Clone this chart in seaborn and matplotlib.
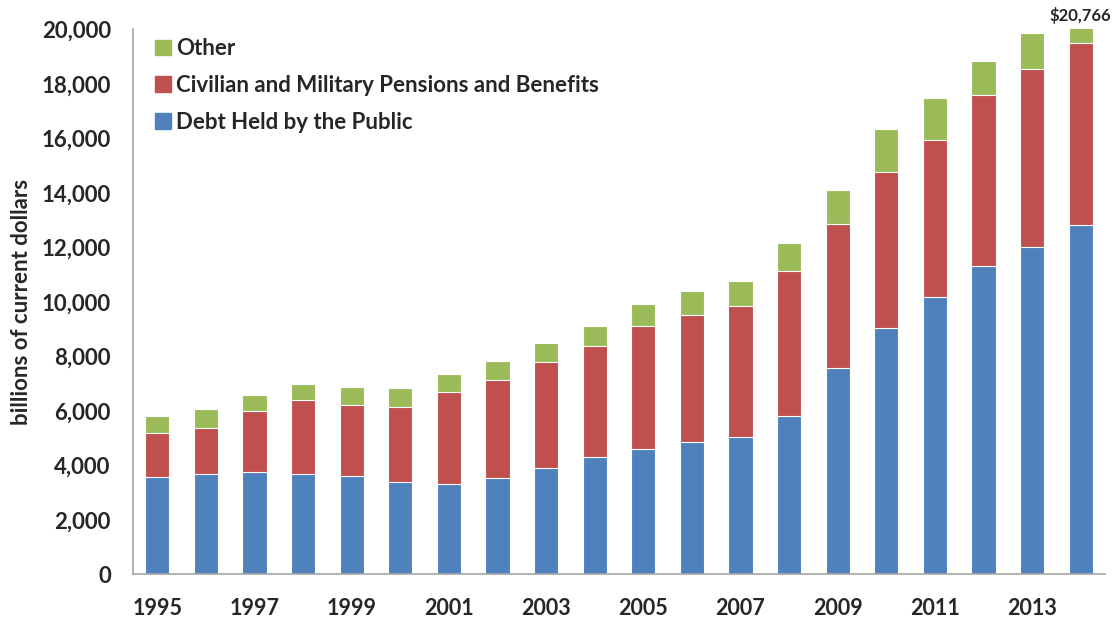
import matplotlib
matplotlib.use("Agg")
from matplotlib import pyplot as plt
from matplotlib.patches import Patch
from matplotlib.ticker import FuncFormatter
import pandas as pd
import seaborn as sns

# values in billions of current dollars
years = [str(y) for y in range(1995, 2015)]
debt_held_by_public = [3570, 3695, 3755, 3695, 3608, 3401, 3328, 3548, 3914, 4306,
                       4612, 4856, 5052, 5823, 7572, 9052, 10165, 11329, 12011, 12820]
pensions_and_benefits = [1630, 1675, 2227, 2690, 2594, 2740, 3363, 3583, 3890, 4073,
                         4489, 4661, 4783, 5308, 5284, 5713, 5786, 6261, 6533, 6666]
other = [623, 685, 612, 587, 685, 685, 673, 686, 685, 722,
         807, 880, 942, 1040, 1260, 1590, 1529, 1248, 1321, 1280]
tick_years = years[::2]

df = pd.DataFrame({"year": years, "debt": debt_held_by_public,
                   "pensions": pensions_and_benefits, "other": other})
df["debt_pensions"] = df["debt"] + df["pensions"]
df["total"] = df["debt_pensions"] + df["other"]

blue = "#4F81BD"
red = "#C0504D"
green = "#9BBB59"
grey = "#A6A6A6"

sns.set_style("white")
plt.rcParams["font.family"] = ["Lato", "DejaVu Sans"]
plt.rcParams["font.weight"] = "bold"

fig = plt.figure(figsize=(11.14, 6.18), dpi=100)
ax = fig.add_axes([0.1194, 0.0704, 0.8725, 0.8822])

bar_kw = dict(width=0.5, saturation=1, edgecolor="white", linewidth=0.8, ax=ax)
sns.barplot(data=df, x="year", y="total", color=green, **bar_kw)
sns.barplot(data=df, x="year", y="debt_pensions", color=red, **bar_kw)
sns.barplot(data=df, x="year", y="debt", color=blue, **bar_kw)

ax.set_ylim(0, 20000)
ax.set_xlim(-0.5, len(years) - 0.5)
ax.set_yticks(range(0, 20001, 2000))
ax.yaxis.set_major_formatter(FuncFormatter(lambda v, p: f"{int(v):,}"))
ax.set_xticks([years.index(y) for y in tick_years])
ax.set_xticklabels(tick_years)
ax.set_xticks([i - 0.5 for i in range(len(years) + 1)], minor=True)
ax.tick_params(axis="x", which="major", length=0, pad=17, labelsize=15.5)
ax.tick_params(axis="x", which="minor", length=5, width=1, color=grey, direction="out")
ax.tick_params(axis="y", length=5, width=1, color=grey, direction="out", labelsize=16, pad=11)
for lab in ax.get_xticklabels() + ax.get_yticklabels():
    lab.set_fontweight("bold")

sns.despine(ax=ax)
for side in ["left", "bottom"]:
    ax.spines[side].set_color(grey)
    ax.spines[side].set_linewidth(1.2)

ax.set_xlabel("")
ax.set_ylabel("billions of current dollars", fontsize=16, fontweight="bold", labelpad=7)

ax.annotate(f"${df['total'].iloc[-1]:,}", xy=(len(years) - 1, 20000), xytext=(0, 4),
            textcoords="offset points", ha="center", va="bottom",
            fontsize=12, fontweight="bold", annotation_clip=False)

handles = [Patch(color=green, label="Other"),
           Patch(color=red, label="Civilian and Military Pensions and Benefits"),
           Patch(color=blue, label="Debt Held by the Public")]
ax.legend(handles=handles, loc="upper left", bbox_to_anchor=(0.002, 1.02), frameon=False,
          prop={"size": 16, "weight": "bold"}, handlelength=0.7, handleheight=0.7,
          handletextpad=0.25, labelspacing=0.7)

plt.savefig("out.png")
